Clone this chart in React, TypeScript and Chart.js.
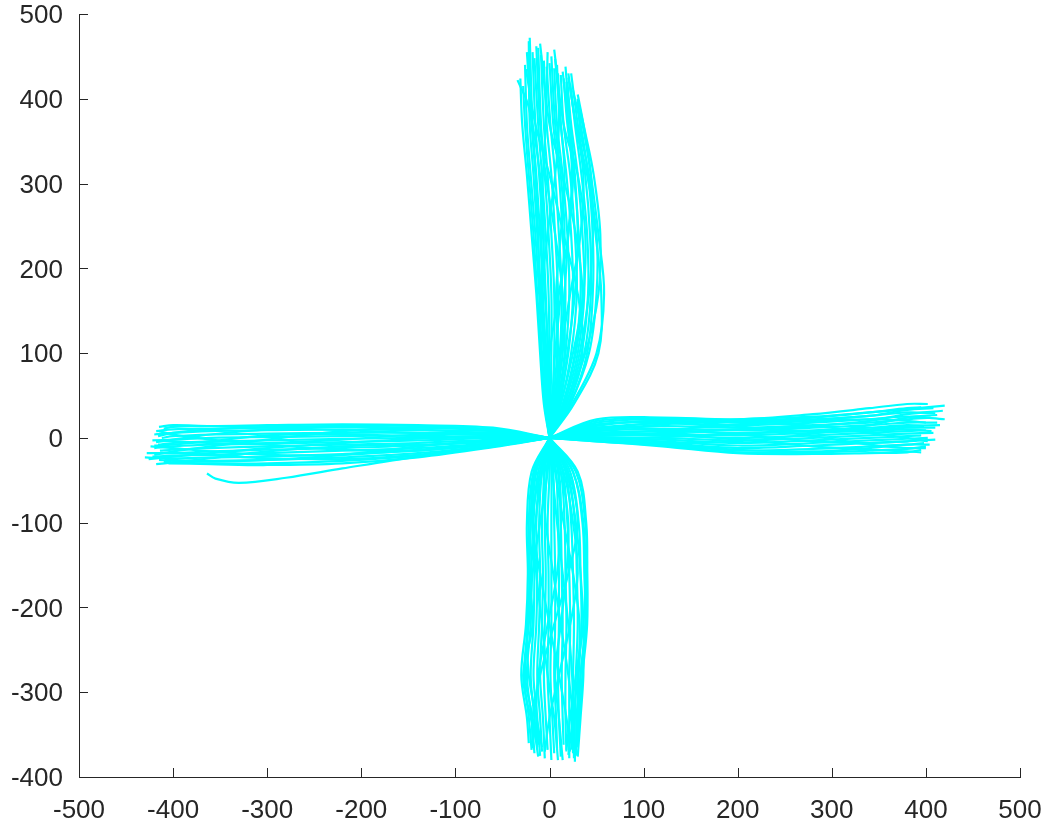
import React, { useEffect, useRef } from "react";
import { Chart, registerables } from "chart.js";

Chart.register(...registerables);

const xTickValues = [-500, -400, -300, -200, -100, 0, 100, 200, 300, 400, 500];
const yTickValues = [-400, -300, -200, -100, 0, 100, 200, 300, 400, 500];

const upTracks: number[][][] = [
  [[0, 0], [-6, 40], [-10, 100], [-14, 170], [-19, 240], [-24, 310], [-29, 370], [-31, 424]],
  [[0, 0], [-5, 40], [-9, 100], [-13, 170], [-17, 240], [-22, 310], [-26, 370], [-28, 415]],
  [[0, 0], [-4, 40], [-8, 100], [-11, 170], [-15, 240], [-20, 310], [-24, 370], [-26, 440]],
  [[0, 0], [-3, 40], [-6, 100], [-9, 170], [-13, 240], [-17, 310], [-21, 370], [-22, 468]],
  [[0, 0], [-2, 40], [-4, 100], [-7, 170], [-10, 240], [-14, 310], [-18, 370], [-21, 472]],
  [[0, 0], [-1, 40], [-2, 100], [-4, 170], [-7, 240], [-11, 310], [-15, 370], [-18, 455]],
  [[0, 0], [0, 40], [0, 100], [-1, 170], [-4, 240], [-8, 310], [-12, 370], [-16, 448]],
  [[0, 0], [1, 40], [2, 100], [2, 170], [-1, 240], [-5, 310], [-9, 370], [-12, 460]],
  [[0, 0], [3, 40], [5, 100], [5, 170], [2, 240], [-2, 310], [-6, 370], [-9, 452]],
  [[0, 0], [4, 40], [8, 100], [9, 170], [6, 240], [2, 310], [-3, 370], [-6, 445]],
  [[0, 0], [6, 40], [11, 100], [13, 170], [10, 240], [6, 310], [1, 370], [-3, 438]],
  [[0, 0], [7, 40], [14, 100], [17, 170], [14, 240], [10, 310], [4, 370], [0, 442]],
  [[0, 0], [9, 40], [17, 100], [21, 170], [19, 240], [14, 310], [8, 370], [5, 436]],
  [[0, 0], [10, 40], [20, 100], [25, 170], [23, 240], [18, 310], [12, 370], [9, 430]],
  [[0, 0], [12, 40], [23, 100], [29, 170], [27, 240], [22, 310], [15, 370], [12, 428]],
  [[0, 0], [14, 40], [27, 100], [33, 170], [31, 240], [26, 310], [19, 370], [15, 424]],
  [[0, 0], [16, 40], [30, 100], [37, 170], [35, 240], [30, 310], [23, 370], [19, 420]],
  [[0, 0], [18, 40], [34, 100], [41, 170], [40, 240], [34, 310], [27, 370], [22, 418]],
  [[0, 0], [20, 40], [37, 100], [44, 170], [43, 240], [38, 310], [30, 370], [23, 430]],
  [[0, 0], [22, 40], [40, 100], [46, 170], [46, 240], [41, 310], [33, 370], [25, 410]],
  [[0, 0], [24, 40], [50, 100], [58, 170], [52, 240], [44, 310], [35, 370], [28, 395]],
  [[0, 0], [26, 40], [52, 100], [55, 170], [49, 240], [42, 310], [33, 360], [30, 400]],
  [[0, 0], [2, 40], [-3, 100], [-8, 170], [-6, 240], [-10, 310], [-22, 390], [-34, 422]],
  [[0, 0], [8, 40], [12, 100], [16, 170], [20, 240], [24, 310], [20, 370], [18, 420]],
  [[0, 0], [-4, 40], [0, 100], [10, 170], [20, 240], [25, 310], [20, 370], [14, 432]],
  [[0, 0], [20, 40], [35, 100], [30, 170], [15, 240], [0, 310], [-15, 370], [-25, 435]],
  [[0, 0], [12, 40], [25, 100], [36, 170], [38, 240], [30, 310], [15, 370], [5, 458]],
  [[0, 0], [-2, 40], [-6, 100], [-8, 170], [-2, 240], [6, 310], [10, 370], [8, 440]],
  [[0, 0], [15, 40], [28, 100], [35, 170], [28, 240], [14, 310], [0, 370], [-10, 465]],
  [[0, 0], [5, 40], [12, 100], [22, 170], [33, 240], [36, 310], [28, 370], [20, 425]],
  [[0, 0], [18, 40], [32, 100], [42, 170], [46, 240], [44, 310], [36, 370], [30, 405]],
  [[0, 0], [-3, 40], [-5, 100], [-10, 170], [-12, 240], [-15, 310], [-19, 370], [-24, 455]],
  [[0, 0], [8, 40], [16, 100], [14, 170], [6, 240], [-4, 310], [-10, 370], [-14, 462]],
  [[0, 0], [22, 40], [42, 100], [50, 170], [50, 240], [40, 310], [28, 370], [20, 430]],
  [[0, 0], [3, 40], [6, 100], [12, 170], [16, 240], [12, 310], [6, 370], [2, 450]],
  [[0, 0], [11, 40], [19, 100], [27, 170], [30, 240], [27, 310], [22, 370], [17, 438]],
  [[0, 0], [1, 40], [-1, 100], [-5, 170], [-9, 240], [-7, 310], [-4, 370], [-2, 455]],
  [[0, 0], [17, 40], [38, 100], [52, 170], [54, 240], [47, 310], [38, 360], [32, 390]],
  [[0, 0], [6, 40], [9, 100], [7, 170], [12, 240], [16, 310], [12, 370], [6, 447]],
];

const downTracks: number[][][] = [
  [[0, 0], [-19, -40], [-24, -100], [-23, -160], [-25, -220], [-30, -280], [-24, -330], [-22, -360]],
  [[0, 0], [-17, -40], [-22, -100], [-21, -160], [-23, -220], [-27, -280], [-22, -330], [-19, -368]],
  [[0, 0], [-15, -40], [-20, -100], [-19, -160], [-20, -220], [-24, -280], [-19, -330], [-16, -372]],
  [[0, 0], [-12, -40], [-17, -100], [-16, -160], [-17, -220], [-20, -280], [-16, -330], [-13, -365]],
  [[0, 0], [-10, -40], [-14, -100], [-13, -160], [-14, -220], [-17, -280], [-13, -330], [-10, -375]],
  [[0, 0], [-8, -40], [-11, -100], [-10, -160], [-11, -220], [-13, -280], [-10, -330], [-8, -370]],
  [[0, 0], [-5, -40], [-8, -100], [-7, -160], [-8, -220], [-10, -280], [-7, -330], [-5, -378]],
  [[0, 0], [-3, -40], [-5, -100], [-4, -160], [-5, -220], [-6, -280], [-4, -330], [-2, -368]],
  [[0, 0], [0, -40], [-2, -100], [-1, -160], [-1, -220], [-2, -280], [0, -330], [2, -380]],
  [[0, 0], [2, -40], [2, -100], [2, -160], [2, -220], [1, -280], [3, -330], [5, -372]],
  [[0, 0], [4, -40], [5, -100], [6, -160], [6, -220], [5, -280], [7, -330], [8, -366]],
  [[0, 0], [7, -40], [9, -100], [10, -160], [10, -220], [9, -280], [10, -330], [12, -376]],
  [[0, 0], [9, -40], [12, -100], [13, -160], [14, -220], [13, -280], [14, -330], [15, -362]],
  [[0, 0], [12, -40], [16, -100], [17, -160], [18, -220], [17, -280], [17, -330], [18, -370]],
  [[0, 0], [14, -40], [19, -100], [21, -160], [22, -220], [21, -280], [21, -330], [21, -378]],
  [[0, 0], [17, -40], [23, -100], [25, -160], [26, -220], [25, -280], [24, -330], [24, -368]],
  [[0, 0], [19, -40], [27, -100], [29, -160], [30, -220], [28, -280], [27, -330], [27, -382]],
  [[0, 0], [22, -40], [31, -100], [33, -160], [34, -220], [31, -280], [29, -330], [28, -375]],
  [[0, 0], [25, -40], [35, -100], [37, -160], [38, -220], [33, -280], [31, -330], [29, -365]],
  [[0, 0], [28, -40], [38, -100], [40, -160], [40, -220], [35, -280], [32, -330], [30, -358]],
  [[0, 0], [30, -40], [39, -100], [40, -160], [39, -220], [33, -280], [30, -330], [31, -350]],
  [[0, 0], [-10, -40], [-18, -100], [-10, -160], [0, -220], [10, -280], [18, -330], [22, -370]],
  [[0, 0], [20, -40], [30, -100], [20, -160], [5, -220], [-10, -280], [-18, -330], [-18, -366]],
  [[0, 0], [-16, -40], [-20, -100], [-22, -160], [-18, -220], [-28, -280], [-20, -330], [-14, -358]],
  [[0, 0], [6, -40], [15, -100], [25, -160], [32, -220], [30, -280], [25, -330], [20, -374]],
  [[0, 0], [15, -40], [25, -100], [30, -160], [22, -220], [10, -280], [0, -330], [-5, -370]],
  [[0, 0], [-6, -40], [-4, -100], [4, -160], [12, -220], [20, -280], [25, -330], [26, -378]],
  [[0, 0], [25, -40], [36, -100], [38, -160], [36, -220], [28, -280], [22, -330], [18, -368]],
  [[0, 0], [-14, -40], [-18, -100], [-14, -160], [-8, -220], [-2, -280], [5, -330], [9, -380]],
  [[0, 0], [10, -40], [12, -100], [8, -160], [-2, -220], [-12, -280], [-14, -330], [-12, -362]],
  [[0, 0], [3, -40], [8, -100], [14, -160], [20, -220], [24, -280], [26, -330], [25, -372]],
  [[0, 0], [-2, -40], [-10, -100], [-18, -160], [-22, -220], [-26, -280], [-18, -330], [-12, -376]],
  [[0, 0], [18, -40], [28, -100], [33, -160], [36, -220], [36, -280], [33, -330], [30, -376]],
  [[0, 0], [-8, -40], [-15, -100], [-20, -160], [-24, -220], [-22, -280], [-14, -330], [-8, -365]],
  [[0, 0], [12, -40], [20, -100], [18, -160], [12, -220], [6, -280], [10, -330], [14, -380]],
];

const rightTracks: number[][][] = [
  [[0, 0], [50, 22], [120, 24], [200, 22], [280, 28], [340, 35], [380, 40], [402, 40]],
  [[0, 0], [50, 18], [120, 22], [200, 20], [280, 24], [340, 30], [380, 35], [395, 36]],
  [[0, 0], [50, 15], [120, 20], [200, 18], [280, 21], [340, 26], [380, 30], [410, 29]],
  [[0, 0], [50, 12], [120, 17], [200, 15], [280, 18], [340, 22], [380, 25], [420, 22]],
  [[0, 0], [50, 10], [120, 14], [200, 12], [280, 15], [340, 18], [380, 22], [405, 24]],
  [[0, 0], [50, 8], [120, 11], [200, 9], [280, 12], [340, 15], [380, 18], [412, 18]],
  [[0, 0], [50, 6], [120, 8], [200, 6], [280, 9], [340, 12], [380, 15], [398, 14]],
  [[0, 0], [50, 4], [120, 5], [200, 3], [280, 6], [340, 9], [380, 12], [410, 12]],
  [[0, 0], [50, 3], [120, 3], [200, 0], [280, 3], [340, 6], [380, 8], [400, 9]],
  [[0, 0], [50, 1], [120, 0], [200, -3], [280, 0], [340, 3], [380, 5], [408, 6]],
  [[0, 0], [50, 0], [120, -2], [200, -6], [280, -3], [340, 0], [380, 2], [395, 3]],
  [[0, 0], [50, -1], [120, -4], [200, -9], [280, -6], [340, -3], [380, -1], [402, 0]],
  [[0, 0], [50, -2], [120, -6], [200, -12], [280, -9], [340, -6], [380, -4], [390, -3]],
  [[0, 0], [50, -3], [120, -8], [200, -15], [280, -13], [340, -10], [380, -8], [398, -6]],
  [[0, 0], [50, -4], [120, -9], [200, -17], [280, -17], [340, -15], [380, -13], [400, -10]],
  [[0, 0], [50, -4], [120, -10], [200, -18], [280, -19], [340, -18], [380, -17], [395, -14]],
  [[0, 0], [50, 10], [120, 18], [200, 20], [280, 14], [340, 6], [380, 0], [402, -4]],
  [[0, 0], [50, -3], [120, -6], [200, -4], [280, 5], [340, 15], [380, 24], [412, 27]],
  [[0, 0], [50, 14], [120, 20], [200, 14], [280, 2], [340, -8], [380, -12], [400, -12]],
  [[0, 0], [50, 2], [120, 6], [200, 10], [280, 14], [340, 20], [380, 28], [418, 32]],
  [[0, 0], [50, 20], [120, 23], [200, 21], [280, 22], [340, 26], [380, 33], [408, 35]],
  [[0, 0], [50, 6], [120, 4], [200, -2], [280, -10], [340, -14], [380, -16], [395, -17]],
  [[0, 0], [50, -1], [120, 1], [200, 5], [280, 8], [340, 10], [380, 14], [415, 15]],
  [[0, 0], [50, 16], [120, 18], [200, 12], [280, 8], [340, 8], [380, 10], [406, 8]],
  [[0, 0], [50, 5], [120, 9], [200, 16], [280, 20], [340, 22], [380, 20], [400, 18]],
  [[0, 0], [50, -3], [120, -7], [200, -14], [280, -16], [340, -12], [380, -8], [404, -8]],
  [[0, 0], [50, 12], [120, 10], [200, 4], [280, -4], [340, -6], [380, -4], [410, -2]],
  [[0, 0], [50, 8], [120, 16], [200, 22], [280, 25], [340, 30], [380, 34], [420, 38]],
];

const leftTracks: number[][][] = [
  [[0, 0], [-60, 12], [-140, 15], [-220, 16], [-300, 15], [-360, 14], [-400, 15], [-415, 13]],
  [[0, 0], [-60, 10], [-140, 12], [-220, 13], [-300, 12], [-360, 11], [-400, 10], [-418, 8]],
  [[0, 0], [-60, 8], [-140, 9], [-220, 10], [-300, 9], [-360, 8], [-400, 6], [-420, 4]],
  [[0, 0], [-60, 6], [-140, 6], [-220, 6], [-300, 5], [-360, 4], [-400, 2], [-412, 0]],
  [[0, 0], [-60, 4], [-140, 3], [-220, 2], [-300, 1], [-360, 0], [-400, -2], [-422, -3]],
  [[0, 0], [-60, 2], [-140, 0], [-220, -1], [-300, -3], [-360, -4], [-400, -6], [-416, -8]],
  [[0, 0], [-60, 0], [-140, -3], [-220, -5], [-300, -7], [-360, -8], [-400, -10], [-420, -12]],
  [[0, 0], [-60, -2], [-140, -6], [-220, -8], [-300, -10], [-360, -12], [-400, -14], [-414, -15]],
  [[0, 0], [-60, -4], [-140, -9], [-220, -12], [-300, -14], [-360, -16], [-400, -18], [-418, -18]],
  [[0, 0], [-60, -6], [-140, -12], [-220, -15], [-300, -18], [-360, -20], [-400, -21], [-422, -22]],
  [[0, 0], [-60, -8], [-140, -15], [-220, -19], [-300, -22], [-360, -23], [-400, -24], [-430, -23]],
  [[0, 0], [-60, -9], [-140, -18], [-220, -23], [-300, -26], [-360, -27], [-400, -27], [-415, -26]],
  [[0, 0], [-60, -10], [-140, -21], [-220, -27], [-300, -30], [-360, -30], [-400, -29], [-410, -28]],
  [[0, 0], [-60, -11], [-140, -23], [-220, -30], [-300, -32], [-360, -31], [-405, -30]],
  [[0, 0], [-60, -10], [-140, -22], [-220, -36], [-280, -47], [-330, -53], [-355, -48], [-364, -42]],
  [[0, 0], [-60, 5], [-140, 10], [-220, 14], [-300, 10], [-360, 4], [-400, -2], [-418, -5]],
  [[0, 0], [-60, -6], [-140, -15], [-220, -14], [-300, -8], [-360, -2], [-400, 4], [-415, 8]],
  [[0, 0], [-60, 8], [-140, 12], [-220, 8], [-300, -2], [-360, -10], [-400, -16], [-420, -20]],
  [[0, 0], [-60, -3], [-140, -10], [-220, -20], [-300, -26], [-360, -28], [-400, -26], [-412, -24]],
  [[0, 0], [-60, 3], [-140, 6], [-220, 9], [-300, 12], [-360, 14], [-400, 13], [-410, 11]],
  [[0, 0], [-60, -7], [-140, -14], [-220, -20], [-300, -20], [-360, -16], [-400, -12], [-424, -10]],
  [[0, 0], [-60, 1], [-140, -1], [-220, -6], [-300, -12], [-360, -18], [-400, -22], [-426, -25]],
  [[0, 0], [-60, 10], [-140, 14], [-220, 14], [-300, 13], [-360, 10], [-400, 6], [-416, 2]],
  [[0, 0], [-60, -5], [-140, -8], [-220, -10], [-300, -16], [-360, -24], [-400, -29], [-418, -31]],
  [[0, 0], [-60, 0], [-140, 2], [-220, 4], [-300, 3], [-360, -4], [-400, -8], [-420, -9]],
  [[0, 0], [-60, -9], [-140, -20], [-220, -25], [-300, -24], [-360, -20], [-400, -18], [-428, -18]],
  [[0, 0], [-60, 6], [-140, 4], [-220, -2], [-300, -6], [-360, -6], [-400, -4], [-418, -4]],
];

const LINE_COLOR = "#00FFFF";
const AXIS_COLOR = "#262626";
const FONT = { family: "'Liberation Sans', Arial, sans-serif", size: 26 };

const inwardTicks = {
  id: "inwardTicks",
  afterDraw(chart: any) {
    const { ctx, chartArea, scales } = chart;
    ctx.save();
    ctx.strokeStyle = AXIS_COLOR;
    ctx.lineWidth = 1;
    scales.x.ticks.forEach((t: any) => {
      const px = Math.round(scales.x.getPixelForValue(t.value)) + 0.5;
      ctx.beginPath();
      ctx.moveTo(px, chartArea.bottom);
      ctx.lineTo(px, chartArea.bottom - 9);
      ctx.stroke();
    });
    scales.y.ticks.forEach((t: any) => {
      const py = Math.round(scales.y.getPixelForValue(t.value)) + 0.5;
      ctx.beginPath();
      ctx.moveTo(chartArea.left, py);
      ctx.lineTo(chartArea.left + 9, py);
      ctx.stroke();
    });
    ctx.restore();
  },
};

const zeroPadding = (scale: any) => {
  scale.paddingLeft = 0;
  scale.paddingRight = 0;
  scale.paddingTop = 0;
  scale.paddingBottom = 0;
};

export default function App() {
  const canvasRef = useRef<HTMLCanvasElement | null>(null);

  useEffect(() => {
    if (!canvasRef.current) return;
    const allTracks = [...upTracks, ...downTracks, ...rightTracks, ...leftTracks];
    const datasets = allTracks.map((track) => ({
      data: track.map(([x, y]) => ({ x, y })),
      showLine: true,
      borderColor: LINE_COLOR,
      backgroundColor: LINE_COLOR,
      borderWidth: 2.2,
      pointRadius: 0,
      tension: 0.35,
      fill: false,
    }));
    const chart = new Chart(canvasRef.current, {
      type: "scatter",
      data: { datasets },
      options: {
        animation: false,
        responsive: false,
        devicePixelRatio: 1,
        layout: { padding: { top: 14, right: 23, left: 0, bottom: 0 } },
        plugins: { legend: { display: false }, tooltip: { enabled: false } },
        scales: {
          x: {
            type: "linear",
            min: -500,
            max: 500,
            afterBuildTicks: (scale: any) => {
              scale.ticks = xTickValues.map((v) => ({ value: v }));
            },
            afterFit: (scale: any) => {
              scale.height = 49;
              zeroPadding(scale);
            },
            grid: { display: true, drawOnChartArea: false, drawTicks: false },
            border: { display: true, color: AXIS_COLOR, width: 1 },
            ticks: {
              color: AXIS_COLOR,
              padding: 18,
              maxRotation: 0,
              autoSkip: false,
              font: FONT,
              callback: (v: any) => String(v),
            },
          },
          y: {
            type: "linear",
            min: -400,
            max: 500,
            afterBuildTicks: (scale: any) => {
              scale.ticks = yTickValues.map((v) => ({ value: v }));
            },
            afterFit: (scale: any) => {
              scale.width = 79;
              zeroPadding(scale);
            },
            grid: { display: true, drawOnChartArea: false, drawTicks: false },
            border: { display: true, color: AXIS_COLOR, width: 1 },
            ticks: {
              color: AXIS_COLOR,
              padding: 16,
              labelOffset: 2,
              autoSkip: false,
              font: FONT,
              callback: (v: any) => String(v),
            },
          },
        },
      },
      plugins: [inwardTicks],
    });
    return () => chart.destroy();
  }, []);

  return (
    <div style={{ position: "absolute", left: 0, top: 0, width: 1043, height: 826, background: "#fff" }}>
      <canvas ref={canvasRef} width={1043} height={826} />
    </div>
  );
}
